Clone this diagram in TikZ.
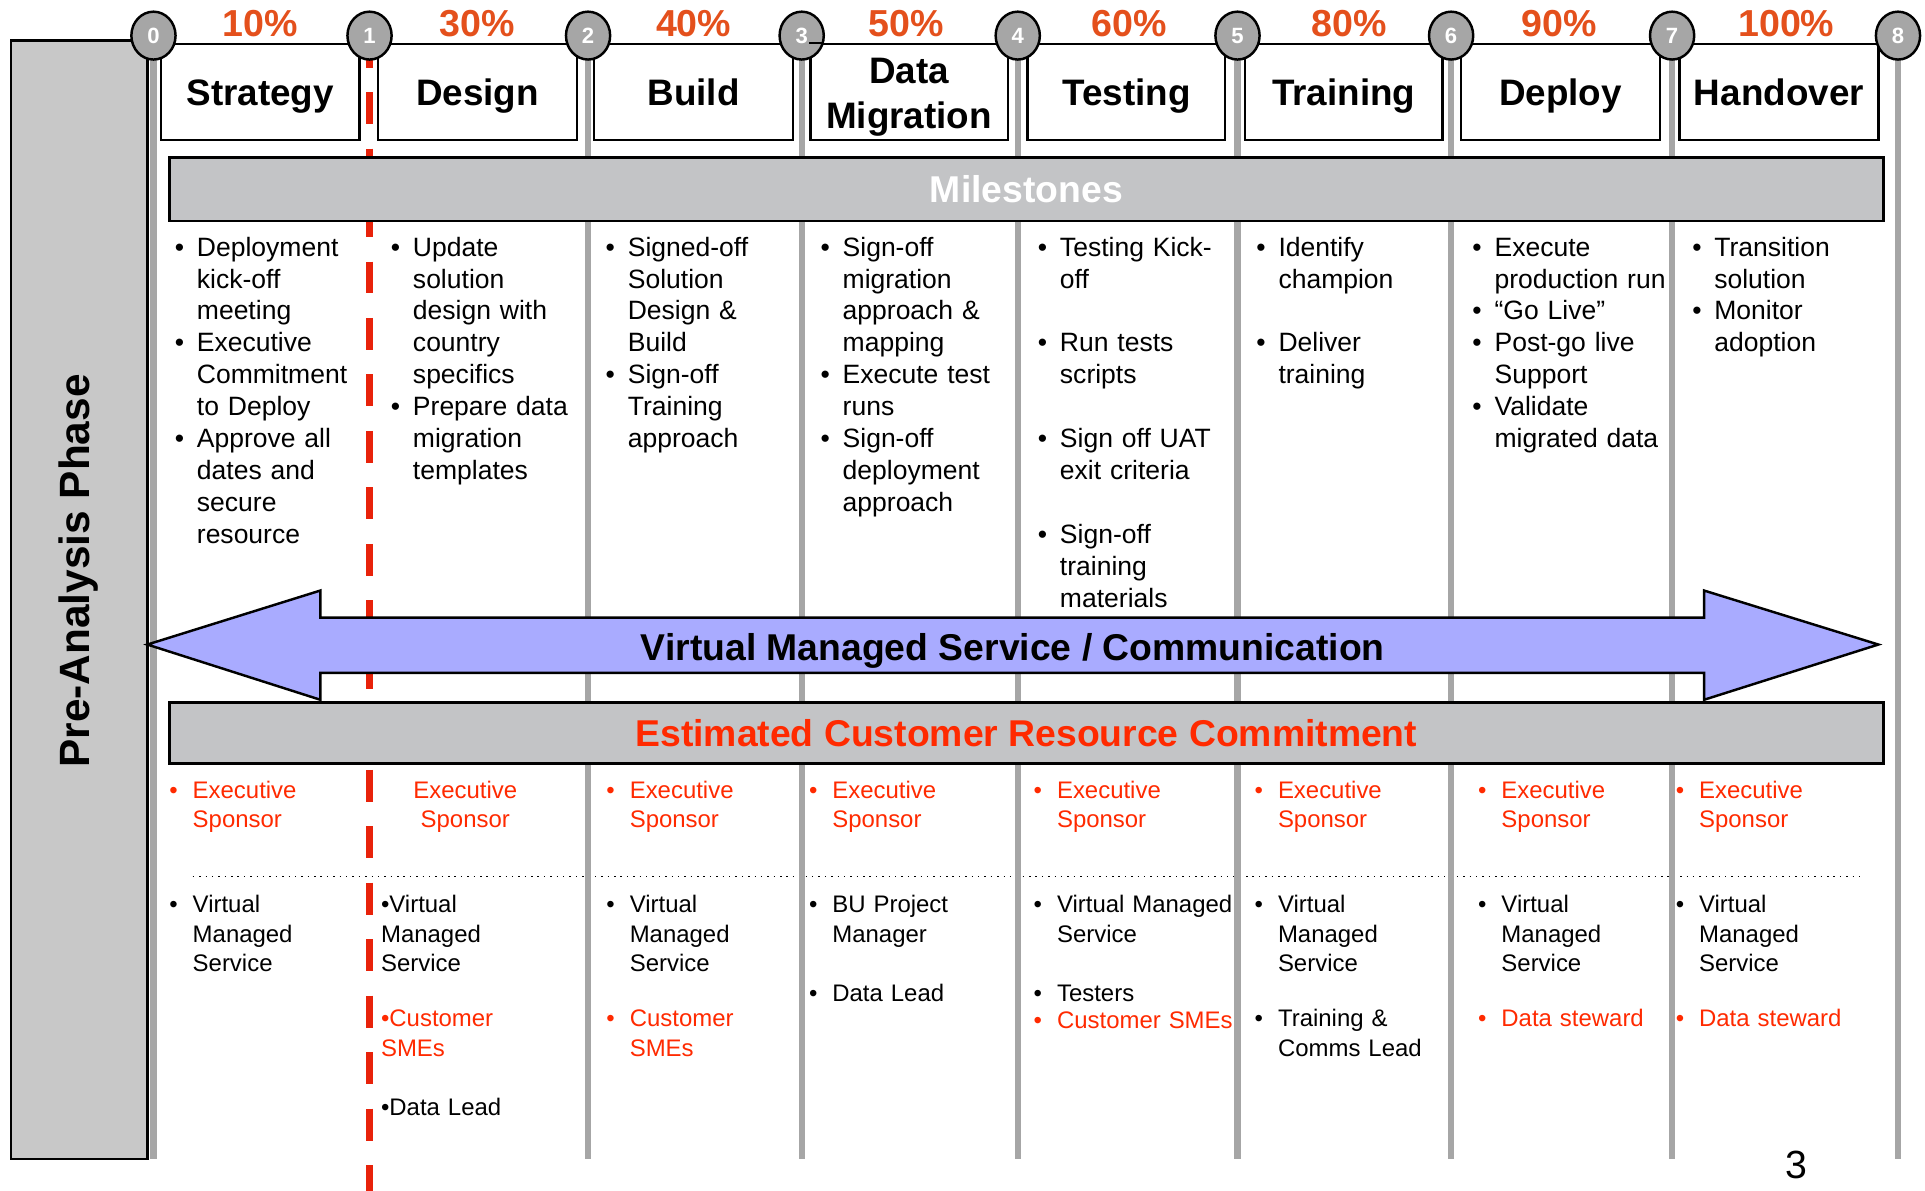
\documentclass[tikz,border=0pt]{standalone}
\usepackage{fontspec}
\setmainfont{Liberation Sans}
\usetikzlibrary{shapes.geometric}
\definecolor{glinec}{HTML}{A6A6A6}
\definecolor{circgray}{HTML}{A6A6A6}
\definecolor{bargray}{HTML}{C3C4C6}
\definecolor{pregray}{HTML}{C8C8C8}
\definecolor{arrowblue}{HTML}{A9ABFF}
\definecolor{pctorange}{HTML}{E4501C}
\definecolor{resred}{HTML}{FF2A00}
\definecolor{redline}{HTML}{E8220A}
\newcommand{\mitem}[1]{\noindent\hangindent=9pt\hangafter=1\strut\makebox[9pt][l]{•}#1\strut\par}
\newcommand{\ritem}[1]{\noindent\hangindent=9.5pt\hangafter=1\strut\makebox[9.5pt][l]{•}#1\strut\par}
\newcommand{\mgap}{\vspace{13pt}}
\begin{document}
\begin{tikzpicture}[x=0.5pt,y=-0.5pt,
  gline/.style={draw=glinec, line width=2.5pt},
  rline/.style={draw=redline, line width=3pt, dash pattern=on 13pt off 10pt},
  phasebox/.style={draw=black, line width=1pt, fill=white, minimum height=39pt, inner sep=0pt},
  plabel/.style={anchor=base, inner sep=0pt, font=\bfseries\fontsize{15}{18}\selectfont},
  mstone/.style={ellipse, draw=black, line width=1pt, fill=circgray, minimum width=18pt, minimum height=19.5pt, inner sep=0pt, text=white, font=\bfseries\fontsize{9}{10}\selectfont},
  pct/.style={anchor=base, text=pctorange, inner sep=0pt, font=\bfseries\fontsize{15.3}{18}\selectfont},
  bar/.style={draw=black, line width=1.2pt, fill=bargray, minimum width=698pt, inner sep=0pt, font=\bfseries\fontsize{15.2}{18}\selectfont},
  mcol/.style={anchor=north west, inner sep=0pt, text width=95pt, align=left, font=\fontsize{10.8}{13}\selectfont},
  rcol/.style={anchor=north west, inner sep=0pt, text width=90pt, align=left, font=\fontsize{9.75}{12}\selectfont},
]
\fill[white] (0,0) rectangle (1568,970);
\useasboundingbox (0,0) rectangle (1568,970);

% milestone coordinates
\foreach \i/\x in {0/125,1/301,2/479,3/653,4/829,5/1008,6/1182,7/1362,8/1546}{
  \coordinate (t\i) at (\x,29);
  \coordinate (b\i) at (\x,944);
}
\coordinate (rb) at (301,972);

% dotted separator
\draw[dotted, line width=0.6pt] (157,714) -- (1515,714);

% vertical lines
\foreach \i in {0,2,3,4,5,6,7,8}{ \draw[gline] (t\i) -- (b\i); }
\draw[rline] (t1) -- (rb);

% pre-analysis box
\node[draw=black, fill=pregray, line width=1pt, minimum width=55.5pt, minimum height=455.5pt, inner sep=0pt] (prebox) at (64.5,488.5) {};
\node[rotate=90, font=\bfseries\fontsize{17.25}{20}\selectfont, inner sep=0pt] (pretxt) at (64,465) {Pre-Analysis Phase};

% phase boxes
\node[phasebox, minimum width=81pt] (p1) at (212,75) {};
\node[phasebox, minimum width=81pt] (p2) at (389,75) {};
\node[phasebox, minimum width=81pt] (p3) at (565,75) {};
\node[phasebox, minimum width=80.5pt] (p4) at (740.5,75) {};
\node[phasebox, minimum width=80.5pt] (p5) at (917.5,75) {};
\node[phasebox, minimum width=80.5pt] (p6) at (1094.5,75) {};
\node[phasebox, minimum width=81pt] (p7) at (1271,75) {};
\node[phasebox, minimum width=81pt] (p8) at (1449,75) {};
\node[plabel] (l1) at (212,86) {Strategy};
\node[plabel] (l2) at (389,86) {Design};
\node[plabel] (l3) at (565,86) {Build};
\node[plabel] (l4a) at (740.5,68) {Data};
\node[plabel] (l4b) at (740.5,104.5) {Migration};
\node[plabel] (l5) at (917.5,86) {Testing};
\node[plabel] (l6) at (1094.5,86) {Training};
\node[plabel] (l7) at (1271,86) {Deploy};
\node[plabel] (l8) at (1449,86) {Handover};

% bars
\node[bar, minimum height=26pt, text=white] (ms) at (836,154) {Milestones};

% double arrow
\draw[fill=arrowblue, line width=1pt, line join=miter]
  (120,525) -- (261,481) -- (261,503) -- (1388,503) -- (1388,481) -- (1530,525)
  -- (1388,570) -- (1388,548) -- (261,548) -- (261,570) -- cycle;
\node[font=\bfseries\fontsize{15.2}{18}\selectfont, inner sep=0pt] (vms) at (825,530) {Virtual Managed Service / Communication};

\node[bar, minimum height=25pt, text=resred] (ecrc) at (836,597) {Estimated Customer Resource Commitment};

% milestone circles
\foreach \i in {0,...,8}{ \node[mstone] (c\i) at (t\i) {\i}; }
\draw[line width=1pt] (p4.north west) -- ++(12,0);

% percentages
\node[pct] (q1) at (212,30) {10\%};
\node[pct] (q2) at (389,30) {30\%};
\node[pct] (q3) at (565,30) {40\%};
\node[pct] (q4) at (738,30) {50\%};
\node[pct] (q5) at (920,30) {60\%};
\node[pct] (q6) at (1099,30) {80\%};
\node[pct] (q7) at (1270,30) {90\%};
\node[pct] (q8) at (1455,30) {100\%};

% milestone texts
\node[mcol] (m1) at (142,190) {\mitem{Deployment\newline kick-off\newline meeting}\mitem{Executive\newline Commitment\newline to Deploy}\mitem{Approve all\newline dates and\newline secure\newline resource}};
\node[mcol] (m2) at (318,190) {\mitem{Update\newline solution\newline design with\newline country\newline specifics}\mitem{Prepare data\newline migration\newline templates}};
\node[mcol] (m3) at (493,190) {\mitem{Signed-off\newline Solution\newline Design \&\newline Build}\mitem{Sign-off\newline Training\newline approach}};
\node[mcol] (m4) at (668,190) {\mitem{Sign-off\newline migration\newline approach \&\newline mapping}\mitem{Execute test\newline runs}\mitem{Sign-off\newline deployment\newline approach}};
\node[mcol] (m5) at (845,190) {\mitem{Testing Kick-\newline off}\mgap\mitem{Run tests\newline scripts}\mgap\mitem{Sign off UAT\newline exit criteria}\mgap\mitem{Sign-off\newline training\newline materials}};
\node[mcol] (m6) at (1023,190) {\mitem{Identify\newline champion}\mgap\mitem{Deliver\newline training}};
\node[mcol] (m7) at (1199,190) {\mitem{Execute\newline production run}\mitem{“Go Live”}\mitem{Post-go live\newline Support}\mitem{Validate\newline migrated data}};
\node[mcol] (m8) at (1378,190) {\mitem{Transition\newline solution}\mitem{Monitor\newline adoption}};

% resource texts: executive sponsors
\foreach \n/\x in {1/137.6,3/493.6,4/658.6,5/841.6,6/1021.6,7/1203.6,8/1364.6}{
  \node[rcol, text=resred] (e\n) at (\x,633.2) {\ritem{Executive\newline Sponsor}};
}
\node[anchor=north, inner sep=0pt, align=center, text=resred, font=\fontsize{9.75}{12}\selectfont] (e2) at (379,633.2) {\strut Executive\\Sponsor};

% resource texts: second group
\node[rcol] (r1a) at (137.6,726.2) {\ritem{Virtual\newline Managed\newline Service}};
\node[rcol] (r2a) at (310,726.2) {\strut•Virtual\newline Managed\newline Service};
\node[rcol, text=resred] (r2b) at (310,819.2) {\strut•Customer\newline SMEs};
\node[rcol] (r2c) at (310,891.2) {\strut•Data Lead};
\node[rcol] (r3a) at (493.6,726.2) {\ritem{Virtual\newline Managed\newline Service}};
\node[rcol, text=resred] (r3b) at (493.6,819.2) {\ritem{Customer\newline SMEs}};
\node[rcol] (r4a) at (658.6,726.2) {\ritem{BU Project\newline Manager}};
\node[rcol] (r4b) at (658.6,798.2) {\ritem{Data Lead}};
\node[rcol] (r5a) at (841.6,726.2) {\ritem{Virtual Managed\newline Service}};
\node[rcol] (r5b) at (841.6,798.2) {\ritem{Testers}};
\node[rcol, text=resred] (r5c) at (841.6,820.2) {\ritem{Customer SMEs}};
\node[rcol] (r6a) at (1021.6,726.2) {\ritem{Virtual\newline Managed\newline Service}};
\node[rcol] (r6b) at (1021.6,819.2) {\ritem{Training \&\newline Comms Lead}};
\node[rcol] (r7a) at (1203.6,726.2) {\ritem{Virtual\newline Managed\newline Service}};
\node[rcol, text=resred] (r7b) at (1203.6,819.2) {\ritem{Data steward}};
\node[rcol] (r8a) at (1364.6,726.2) {\ritem{Virtual\newline Managed\newline Service}};
\node[rcol, text=resred] (r8b) at (1364.6,819.2) {\ritem{Data steward}};

% page number
\node[font=\fontsize{16}{18}\selectfont, inner sep=0pt] (pg) at (1463,949) {3};
\end{tikzpicture}
\end{document}
